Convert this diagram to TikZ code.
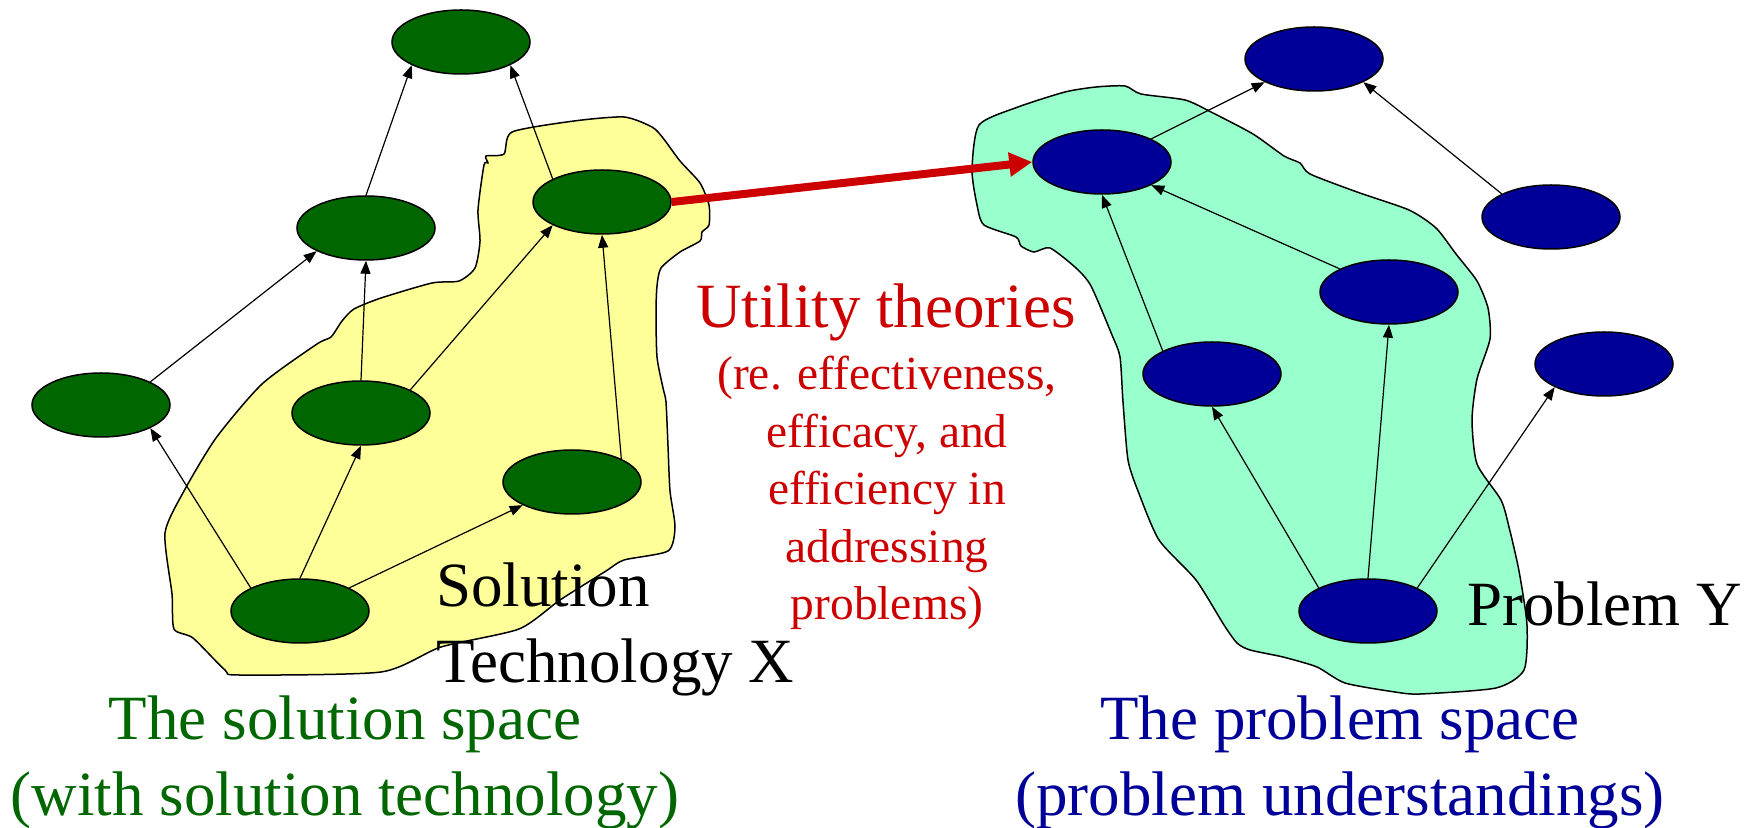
\documentclass[tikz,border=0pt]{standalone}
\usepackage{fontspec}
\setmainfont{Liberation Serif}
\usepackage{tikz}
\usetikzlibrary{arrows.meta}
\usetikzlibrary{shapes.geometric}
\usepackage{xcolor}
\definecolor{solgreen}{RGB}{0,102,0}
\definecolor{probblue}{RGB}{0,0,153}
\definecolor{solfill}{RGB}{255,255,153}
\definecolor{probfill}{RGB}{153,255,204}
\definecolor{utilred}{RGB}{204,0,0}

\begin{document}
\begin{tikzpicture}[x=0.5pt,y=-0.5pt,
  sol/.style={ellipse,draw,line width=0.75pt,fill=solgreen,minimum width=69pt,minimum height=32pt,inner sep=0pt},
  prob/.style={ellipse,draw,line width=0.75pt,fill=probblue,minimum width=69pt,minimum height=32pt,inner sep=0pt},
  link/.style={line width=0.6pt,-{Triangle[length=6.5pt,width=5pt]}},
  bridge/.style={utilred,line width=4pt,-{Triangle[length=11.5pt,width=11.5pt]}},
  blob/.style={draw,line width=0.75pt},
  big/.style={font=\fontsize{31.5}{38}\selectfont,inner sep=0pt},
  small/.style={font=\fontsize{23.75}{28.75}\selectfont,inner sep=0pt}]
\useasboundingbox (0,0) rectangle (1758,828);
\draw[blob,fill=solfill] plot[smooth cycle,tension=0.4] coordinates {
  (512,132) (574,121) (624,117) (652,127) (663,138) (680,161) (700,183)
  (709,205) (709,225) (702,232) (700,241) (680,252) (661,268) (657,286)
  (656,312) (657,357) (663,388) (666,402) (668,446) (670,491) (675,527)
  (668,551) (624,560) (606,571) (560,600) (519,629) (441,647) (381,672)
  (239,675) (225,670) (193,638) (174,629) (172,594) (165,533) (184,491)
  (216,438) (262,384) (317,344) (331,337) (342,321) (354,309) (381,298)
  (432,283) (459,281) (475,268) (480,241) (478,210) (484,165) (488,163)
  (486,156) (504,154)};
\draw[blob,fill=probfill] plot[smooth cycle,tension=0.4] coordinates {
  (979,125) (1018,107) (1065,92) (1096,87) (1125,86) (1141,94) (1185,100)
  (1211,112) (1253,134) (1284,156) (1300,163) (1310,174) (1357,192)
  (1409,210) (1436,228) (1456,254) (1477,281) (1488,308) (1490,339)
  (1477,379) (1472,420) (1477,464) (1501,500) (1509,527) (1519,571)
  (1527,625) (1524,670) (1496,688) (1420,694) (1395,692) (1345,683)
  (1317,667) (1283,657) (1250,650) (1237,643) (1224,625) (1196,580)
  (1159,540) (1138,491) (1128,460) (1123,402) (1120,357) (1112,335)
  (1091,286) (1076,268) (1050,248) (1034,252) (1021,246) (1016,237)
  (984,225) (977,205) (972,170)};

\node[sol] (s1) at (461,42) {};
\node[sol] (s2) at (366,228) {};
\node[sol] (s3) at (602,202) {};
\node[sol] (s4) at (101,405) {};
\node[sol] (s5) at (361,413) {};
\node[sol] (s6) at (572,482) {};
\node[sol] (s7) at (300,611) {};

\node[prob] (p1) at (1314,59) {};
\node[prob] (p2) at (1102,162) {};
\node[prob] (p3) at (1551,217) {};
\node[prob] (p4) at (1389,292) {};
\node[prob] (p5) at (1604,364) {};
\node[prob] (p6) at (1212,374) {};
\node[prob] (p7) at (1368,611) {};

\draw[link] (s2.north) -- (s1.south west);
\draw[link] (s3.north west) -- (s1.south east);
\draw[link] (s4.north east) -- (s2.south west);
\draw[link] (s5.north) -- (s2.south);
\draw[link] (s5.north east) -- (s3.south west);
\draw[link] (s6.north east) -- (s3.south);
\draw[link] (s7.north west) -- (s4.south east);
\draw[link] (s7.north) -- (s5.south);
\draw[link] (s7.north east) -- (s6.south west);

\draw[link] (p2.north east) -- (p1.south west);
\draw[link] (p3.north west) -- (p1.south east);
\draw[link] (p4.north west) -- (p2.south east);
\draw[link] (p6.north west) -- (p2.south);
\draw[link] (p7.north west) -- (p6.south);
\draw[link] (p7.north) -- (p4.south);
\draw[link] (p7.north east) -- (p5.south west);

\draw[bridge] (s3.east) -- (p2.west);

\node[big,anchor=base,text=utilred] (util) at (886,328) {Utility theories};
\node[small,anchor=north,align=center,text=utilred] (utilnote) at (887,356)
  {(re. effectiveness,\\efficacy, and\\efficiency in\\addressing\\problems)};
\node[big,anchor=north west,align=left] (soltech) at (436,562) {Solution\\Technology X};
\node[big,anchor=base west] (probY) at (1467,626) {Problem Y};
\node[big,anchor=north,align=center,text=solgreen] (solspace) at (345,695)
  {The solution space\\(with solution technology)};
\node[big,anchor=north,align=center,text=probblue] (probspace) at (1340,695)
  {The problem space\\(problem understandings)};
\end{tikzpicture}
\end{document}
